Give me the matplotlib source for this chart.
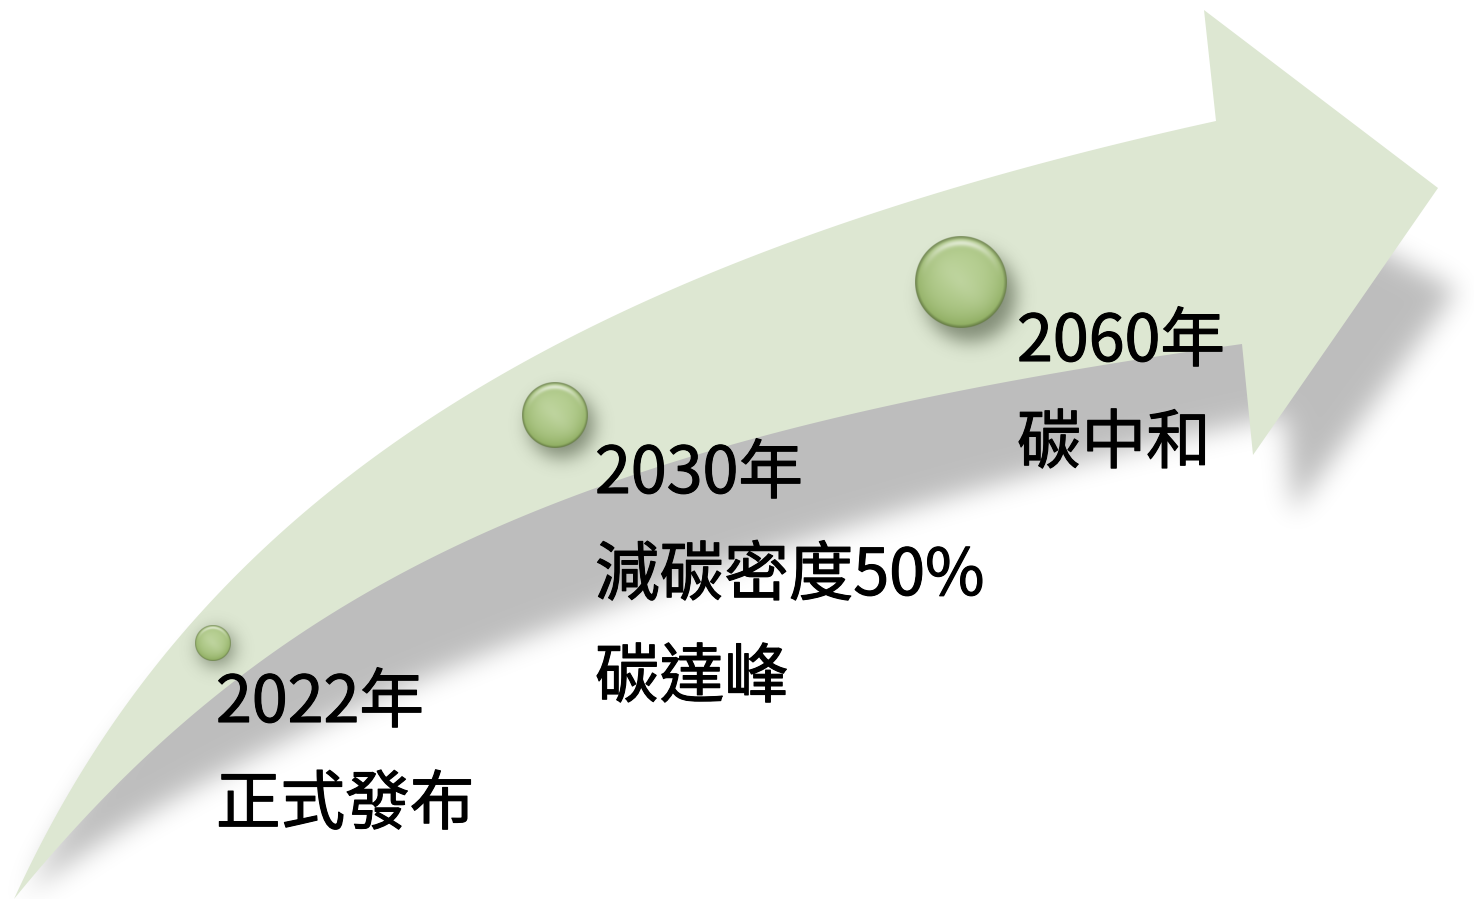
import numpy as np
import matplotlib
matplotlib.use('Agg')
import matplotlib.pyplot as plt
import matplotlib.patheffects as pe
from matplotlib.bezier import BezierSegment
from matplotlib.path import Path
from matplotlib.patches import Polygon

W, H = 1474, 899

# arrow outline in pixel coords (y goes down)
top_edge = [(14, 899), (196, 500), (556, 266), (1216, 121)]
arrow_head = [(1204, 10), (1438, 188), (1253, 455), (1242, 344)]
low_edge = [(1242, 344), (585, 436), (278, 575), (14, 899)]

# shadow outline: head and lower edge (its top edge sits under the arrow)
shadow_head = [(1184, 146), (1457, 290), (1293, 513), (1285, 415)]
shadow_low = [(1285, 415), (870, 500), (290, 690), (20, 899)]

# milestones
labels = [['2022年', '正式發布'],
          ['2030年', '減碳密度50%', '碳達峰'],
          ['2060年', '碳中和']]
label_x = [216, 595, 1017]
label_y = [722, 493, 361]
ball_x = [213, 555, 961]
ball_y = [643, 415, 282]
ball_r = [18, 33, 46]

arrow_color = '#dde7d2'
line_gap = 102


def blur(img, sigma):
    k = int(3 * sigma)
    x = np.arange(-k, k + 1)
    g = np.exp(-x ** 2 / (2.0 * sigma ** 2))
    g /= g.sum()
    img = np.apply_along_axis(lambda r: np.convolve(r, g, mode='same'), 1, img)
    img = np.apply_along_axis(lambda c: np.convolve(c, g, mode='same'), 0, img)
    return img


def ball_rgba(n):
    t = (np.arange(n) + 0.5) / n * 2 - 1
    u, v = np.meshgrid(t, t)
    r = np.hypot(u, v)
    light = np.array([0.76, 0.85, 0.63])
    dark = np.array([0.55, 0.67, 0.37])
    w = np.clip(0.25 + 0.60 * r ** 3 + 0.20 * v, 0, 1)
    rgb = light * (1 - w)[..., None] + dark * w[..., None]
    # soft diagonal streak
    d = np.abs(u - v) / np.sqrt(2)
    s = np.exp(-(d / 0.3) ** 2) * 0.12 * np.clip(1 - r, 0, 1)
    rgb = rgb + (1 - rgb) * s[..., None]
    # top crescent highlight
    up = np.clip(-v / np.maximum(r, 1e-6), 0, 1) ** 2
    h = np.exp(-((r - 0.85) / 0.07) ** 2) * up
    rgb = rgb + (1 - rgb) * (0.6 * h)[..., None]
    # dark rim
    rim = np.clip((r - 0.92) / 0.08, 0, 1)
    rgb = rgb * (1 - 0.3 * rim)[..., None]
    alpha = np.clip((1 - r) * n / 2, 0, 1)
    return np.dstack([np.clip(rgb, 0, 1), alpha])


def curve(ctrl, ts):
    return np.asarray(BezierSegment(np.array(ctrl, float)).point_at_t(ts), float)


# outline polygon from the bezier edges
ts = np.linspace(0, 1, 120)
top_pts = curve(top_edge, ts)
low_pts = curve(low_edge, ts)
outline = np.vstack([top_pts, np.array(arrow_head, float), low_pts])

# shadow polygon: skewed top edge + its own head and lower edge
st_x = 1.07 * top_pts[:, 0] + 0.128 * top_pts[:, 1] - 106
st_y = -0.015 * top_pts[:, 0] + 0.832 * top_pts[:, 1] + 158
s_low = curve(shadow_low, ts)
shadow_outline = np.vstack([np.column_stack([st_x, st_y]),
                            np.array(shadow_head, float), s_low])

fig = plt.figure(figsize=(W / 100, H / 100), dpi=100)
ax = fig.add_axes([0, 0, 1, 1])
ax.set_xlim(0, W)
ax.set_ylim(H, 0)
ax.axis('off')

# pixel grid
gx, gy = np.meshgrid(np.arange(W) + 0.5, np.arange(H) + 0.5)
grid = np.column_stack([gx.ravel(), gy.ravel()])

# drop shadow of the arrow, blurred
shadow_mask = Path(shadow_outline).contains_points(grid).reshape(H, W).astype(float)
shadow_mask = blur(shadow_mask, 13)
shadow = np.zeros((H, W, 4))
shadow[..., 3] = 0.26 * shadow_mask
ax.imshow(shadow, extent=(0, W, H, 0), origin='upper', interpolation='bilinear', zorder=1)

ax.add_patch(Polygon(outline, closed=True, facecolor=arrow_color, edgecolor='none', zorder=2))

# ball shadows
bmask = np.zeros((H, W))
for cx, cy, r in zip(ball_x, ball_y, ball_r):
    d = np.hypot(gx - (cx + r * 0.2), gy - (cy + r * 0.3))
    bmask += (d < r).astype(float)
bmask = blur(bmask, 9)
bshadow = np.zeros((H, W, 4))
bshadow[..., 0] = 0.22
bshadow[..., 1] = 0.27
bshadow[..., 2] = 0.18
bshadow[..., 3] = 0.55 * np.clip(bmask, 0, 1)
ax.imshow(bshadow, extent=(0, W, H, 0), origin='upper', interpolation='bilinear', zorder=3)

for cx, cy, r in zip(ball_x, ball_y, ball_r):
    img = ball_rgba(int(r * 8))
    ax.imshow(img, extent=(cx - r, cx + r, cy + r, cy - r), origin='upper',
              interpolation='bilinear', zorder=4)

for lines, x, y in zip(labels, label_x, label_y):
    for i, s in enumerate(lines):
        ax.text(x, y + i * line_gap, s, fontsize=46.5, color='black',
                family=['Noto Sans CJK TC', 'DejaVu Sans'],
                ha='left', va='baseline', zorder=5,
                path_effects=[pe.withStroke(linewidth=0.8, foreground='black')])

ax.set_xlim(0, W)
ax.set_ylim(H, 0)
fig.savefig('out.png', dpi=100)
